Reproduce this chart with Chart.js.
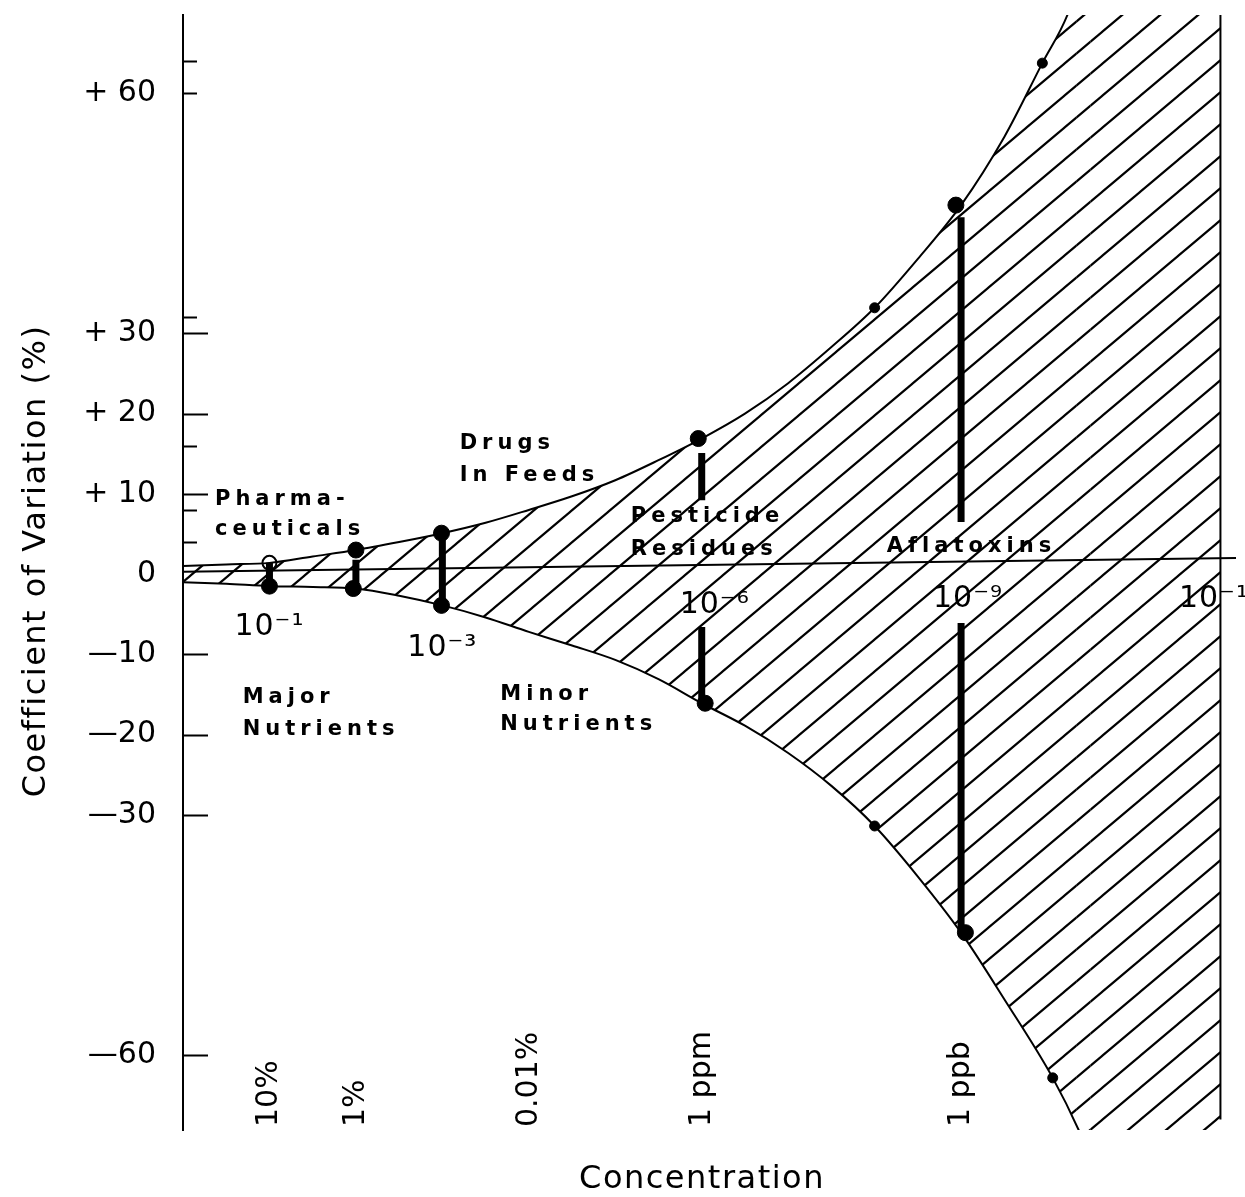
<!DOCTYPE html>
<html>
<head>
<meta charset="utf-8">
<script src="https://cdn.jsdelivr.net/npm/chart.js@4.4.0/dist/chart.umd.min.js"></script>
<style>
    body { margin: 0; background: #fff; }
    #wrap { width: 1245px; height: 1197px; }
</style>
</head>
<body>
<div id="wrap"><canvas id="myChart" width="1245" height="1197"></canvas></div>
<script>
// x = decades below 100% (0 -> 10^0, 6 -> 10^-6 = 1 ppm, 9 -> 10^-9 = 1 ppb)
// the last two points of each curve lie just outside the plot and only close the hatched area
var upperX  = [0, 0.5, 1, 1.5, 2, 2.5, 3, 3.5, 4, 4.5, 5, 5.5, 6, 6.5, 7, 7.5, 8, 8.5, 9, 9.5, 9.94, 10.23, 10.33, 12];
var upperCV = [1.0, 1.2, 1.4, 2.2, 3.0, 4.0, 5.1, 6.4, 8.0, 9.7, 11.7, 14.2, 16.9, 20.0, 23.8, 28.3, 33.2, 39.3, 46.0, 54.5, 63.7, 69.7, 73, 73];
var lowerX  = [0, 0.5, 1, 1.5, 2, 2.5, 3, 3.5, 4, 4.5, 5, 5.5, 6, 6.5, 7, 7.5, 8, 8.5, 9, 9.5, 10.06, 10.36, 10.5, 12];
var lowerCV = [-1.0, -1.2, -1.5, -1.6, -1.8, -2.7, -3.9, -5.4, -7.2, -8.9, -10.7, -13.1, -16.1, -18.9, -22.3, -26.4, -31.4, -37.7, -44.7, -53.0, -62.8, -69.3, -73, -73];

// slightly tilted "zero" line and the right edge of the hatched area
var zeroX = [0, 12.18];
var zeroCV = [0.3, 2.0];
var edgeX = [12, 12];
var edgeCV = [69.7, -68.0];

// measured ranges (thick bars)
var barX      = [1, 2, 3, 6, 6, 9, 9];
var barTop    = [1.4, 1.8, 5.1, 15.1, -6.6, 44.5, -6.1];
var barBottom = [-1.5, -1.8, -3.9, 9.2, -15.7, 6.5, -44.7];

// dots
var dotX  = [1, 2, 1.97, 2.99, 2.99, 5.96, 6.04, 8.94, 9.05];
var dotCV = [-1.5, 3.0, -1.8, 5.1, -3.9, 16.9, -16.1, 46.0, -44.7];
var openDotX = [1];
var openDotCV = [1.4];
var smallDotX  = [8, 8, 9.94, 10.06];
var smallDotCV = [33.2, -31.4, 63.7, -62.8];

// axis
var yLabelValues = [60, 30, 20, 10, 0, -10, -20, -30, -60];
var yMajorMarks = [30, 20, 10, -10, -20, -30, -60];
var yMinorMarks = [64, 60, 32, 16, 8, 4];
var concDecades = [1, 2, 4, 6, 9];
var concLabels = ["10%", "1%", "0.01%", "1 ppm", "1 ppb"];

// text in the plot
var regionLabels = [
    { text: "Pharma-", x: 0.37, y: 8.6 },
    { text: "ceuticals", x: 0.37, y: 4.9 },
    { text: "Drugs", x: 3.2, y: 15.6 },
    { text: "In Feeds", x: 3.2, y: 11.6 },
    { text: "Pesticide", x: 5.18, y: 6.5 },
    { text: "Residues", x: 5.18, y: 2.4 },
    { text: "Aflatoxins", x: 8.14, y: 2.7 },
    { text: "Major", x: 0.69, y: -16.1 },
    { text: "Nutrients", x: 0.69, y: -20.0 },
    { text: "Minor", x: 3.67, y: -15.7 },
    { text: "Nutrients", x: 3.67, y: -19.4 }
];
var expLabels = [
    { text: "10\u207B\u00B9", x: 1.0, y: -7.6 },
    { text: "10\u207B\u00B3", x: 3.0, y: -10.2 },
    { text: "10\u207B\u2076", x: 6.15, y: -4.9 },
    { text: "10\u207B\u2079", x: 9.08, y: -4.1 },
    { text: "10\u207B\u00B9\u00B2", x: 12.0, y: -4.1 }
];

function pts(xs, ys) {
    return xs.map(function (x, i) { return { x: x, y: ys[i] }; });
}

function barPoints() {
    let out = [];
    for (let i = 0; i < barX.length; i++) {
        out.push({ x: barX[i], y: barTop[i] });
        out.push({ x: barX[i], y: barBottom[i] });
        out.push({ x: barX[i], y: null });
    }
    return out;
}

function makeHatch() {
    let c = document.createElement("canvas");
    c.width = 38;
    c.height = 32;
    let g = c.getContext("2d");
    g.strokeStyle = "#000";
    g.lineWidth = 2.2;
    [-32, 0, 32].forEach(function (dy) {
        g.beginPath();
        g.moveTo(-38, 64 + dy);
        g.lineTo(76, -32 + dy);
        g.stroke();
    });
    return g.createPattern(c, "repeat");
}

var textPlugin = {
    id: "texts",
    afterDraw: function (chart) {
        let ctx = chart.ctx;
        let x = chart.scales.x, y = chart.scales.y;
        let area = chart.chartArea;
        ctx.save();
        ctx.fillStyle = "#000";
        ctx.strokeStyle = "#000";

        // inward tick marks on the y axis
        ctx.lineWidth = 2;
        yMajorMarks.forEach(function (v) {
            let py = Math.round(y.getPixelForValue(v)) + 0.5;
            ctx.beginPath(); ctx.moveTo(area.left, py); ctx.lineTo(area.left + 25, py); ctx.stroke();
        });
        yMinorMarks.forEach(function (v) {
            let py = Math.round(y.getPixelForValue(v)) + 0.5;
            ctx.beginPath(); ctx.moveTo(area.left, py); ctx.lineTo(area.left + 14, py); ctx.stroke();
        });

        // region names
        ctx.font = "bold 21px 'DejaVu Sans'";
        ctx.letterSpacing = "5px";
        ctx.textAlign = "left";
        ctx.textBaseline = "alphabetic";
        regionLabels.forEach(function (l) {
            ctx.fillText(l.text, x.getPixelForValue(l.x), y.getPixelForValue(l.y));
        });

        // powers of ten
        ctx.font = "30px 'DejaVu Sans'";
        ctx.letterSpacing = "1px";
        ctx.textAlign = "center";
        expLabels.forEach(function (l) {
            ctx.fillText(l.text, x.getPixelForValue(l.x), y.getPixelForValue(l.y));
        });

        // concentration names, vertical
        ctx.font = "30px 'DejaVu Sans'";
        ctx.letterSpacing = "0px";
        concLabels.forEach(function (t, i) {
            ctx.save();
            ctx.translate(x.getPixelForValue(concDecades[i]), area.bottom - 3);
            ctx.rotate(-Math.PI / 2);
            ctx.textAlign = "left";
            ctx.textBaseline = "middle";
            ctx.fillText(t, 0, 0);
            ctx.restore();
        });

        // axis titles
        ctx.font = "32px 'DejaVu Sans'";
        ctx.letterSpacing = "1.5px";
        ctx.textAlign = "center";
        ctx.textBaseline = "middle";
        ctx.save();
        ctx.translate(37, 561);
        ctx.rotate(-Math.PI / 2);
        ctx.fillText("Coefficient of Variation (%)", 0, 0);
        ctx.restore();
        ctx.fillText("Concentration", 702, 1180);
        ctx.restore();
    }
};

document.addEventListener("DOMContentLoaded", function () {
    let hatch = makeHatch();
    let lastUpper = upperX.length - 2;
    let lastLower = lowerX.length - 2;

    new Chart(document.getElementById("myChart"), {
        type: "line",
        data: {
            datasets: [
                {
                    data: pts(upperX, upperCV),
                    borderColor: "#000",
                    borderWidth: 2,
                    pointRadius: 0,
                    cubicInterpolationMode: "monotone",
                    fill: "+1",
                    backgroundColor: hatch,
                    segment: {
                        borderColor: function (c) { return c.p0DataIndex >= lastUpper ? "rgba(0,0,0,0)" : "#000"; }
                    }
                },
                {
                    data: pts(lowerX, lowerCV),
                    borderColor: "#000",
                    borderWidth: 2,
                    pointRadius: 0,
                    cubicInterpolationMode: "monotone",
                    fill: false,
                    segment: {
                        borderColor: function (c) { return c.p0DataIndex >= lastLower ? "rgba(0,0,0,0)" : "#000"; }
                    }
                },
                {
                    data: pts(zeroX, zeroCV),
                    borderColor: "#000",
                    borderWidth: 2,
                    pointRadius: 0,
                    fill: false
                },
                {
                    data: pts(edgeX, edgeCV),
                    borderColor: "#000",
                    borderWidth: 2,
                    pointRadius: 0,
                    fill: false
                },
                {
                    data: barPoints(),
                    borderColor: "#000",
                    borderWidth: 7,
                    pointRadius: 0,
                    spanGaps: false,
                    fill: false
                },
                {
                    data: pts(dotX, dotCV),
                    showLine: false,
                    pointRadius: 8,
                    pointBackgroundColor: "#000",
                    pointBorderColor: "#000"
                },
                {
                    data: pts(openDotX, openDotCV),
                    showLine: false,
                    pointRadius: 7,
                    pointBorderWidth: 2,
                    pointBackgroundColor: "#fff",
                    pointBorderColor: "#000"
                },
                {
                    data: pts(smallDotX, smallDotCV),
                    showLine: false,
                    pointRadius: 5,
                    pointBackgroundColor: "#000",
                    pointBorderColor: "#000"
                }
            ]
        },
        options: {
            responsive: false,
            animation: false,
            layout: { padding: { top: 15, left: 0, right: 0, bottom: 0 } },
            plugins: {
                legend: { display: false },
                tooltip: { enabled: false }
            },
            scales: {
                x: {
                    type: "linear",
                    min: 0,
                    max: 12.18,
                    grid: { display: false },
                    border: { display: false },
                    ticks: { display: false },
                    afterFit: function (s) { s.height = 67; }
                },
                y: {
                    type: "linear",
                    min: -69.3,
                    max: 69.7,
                    grid: { display: false, drawTicks: false },
                    border: { display: true, color: "#000", width: 2 },
                    afterBuildTicks: function (s) {
                        s.ticks = yLabelValues.map(function (v) { return { value: v }; });
                    },
                    ticks: {
                        padding: 27,
                        color: "#000",
                        font: { family: "DejaVu Sans", size: 30 },
                        callback: function (v) {
                            if (v > 0) return "+ " + v;
                            if (v < 0) return "\u2014" + Math.abs(v);
                            return "0";
                        }
                    },
                    afterFit: function (s) {
                        s.width = 183;
                        s.paddingTop = 0;
                        s.paddingBottom = 0;
                    }
                }
            }
        },
        plugins: [textPlugin]
    });
});
</script>
</body>
</html>
